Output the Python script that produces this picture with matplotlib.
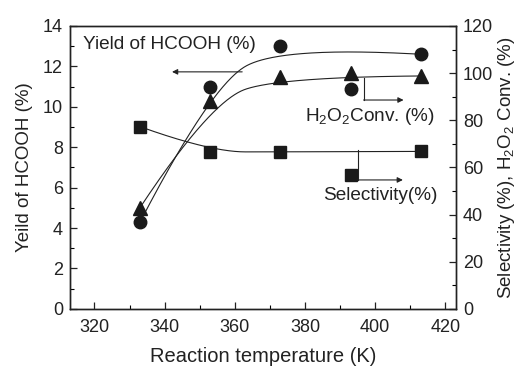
import numpy as np
import matplotlib
matplotlib.use("Agg")
import matplotlib.pyplot as plt

plt.rcParams['font.family'] = ['Liberation Sans', 'DejaVu Sans']
plt.rcParams['mathtext.fontset'] = 'custom'
plt.rcParams['mathtext.rm'] = 'Liberation Sans'
plt.rcParams['mathtext.it'] = 'Liberation Sans'
plt.rcParams['mathtext.sf'] = 'Liberation Sans'
plt.rcParams['mathtext.default'] = 'rm'

# data
temp = np.array([333, 353, 373, 393, 413])
yield_hcooh = np.array([4.3, 11.0, 13.0, 10.9, 12.6])      # left axis, %
conversion = np.array([43.0, 88.0, 98.3, 100.0, 98.8])     # right axis, %
selectivity = np.array([77.3, 66.6, 66.6, 56.8, 66.8])     # right axis, %
# the 393 K points are not part of the drawn curves
in_curve = np.array([True, True, True, False, True])

xticks = [320, 340, 360, 380, 400, 420]


def bspline2(x, y, n=100):
    # clamped quadratic B-spline with the points as control points
    px, py = np.asarray(x, float), np.asarray(y, float)
    mx = np.r_[px[0], (px[1:-2] + px[2:-1]) / 2, px[-1]]
    my = np.r_[py[0], (py[1:-2] + py[2:-1]) / 2, py[-1]]
    u = np.linspace(0, 1, n)[:, None]
    cx = px[1:-1]
    cy = py[1:-1]
    bx = (1 - u) ** 2 * mx[:-1] + 2 * u * (1 - u) * cx + u ** 2 * mx[1:]
    by = (1 - u) ** 2 * my[:-1] + 2 * u * (1 - u) * cy + u ** 2 * my[1:]
    return bx.T.ravel(), by.T.ravel()


fig = plt.figure(figsize=(5.18, 3.66), dpi=100)
ax = fig.add_axes([0.135, 0.156, 0.745, 0.773])
ax2 = ax.twinx()

lc = '#222222'
mc = '#1a1a1a'
ax.plot(*bspline2(temp[in_curve], yield_hcooh[in_curve]), color=lc, lw=0.8)
ax.plot(temp, yield_hcooh, 'o', color=mc, ms=9)
ax2.plot(*bspline2(temp[in_curve], conversion[in_curve]), color=lc, lw=0.8)
ax2.plot(temp, conversion, '^', color=mc, ms=10)
ax2.plot(*bspline2(temp[in_curve], selectivity[in_curve]), color=lc, lw=0.8)
ax2.plot(temp, selectivity, 's', color=mc, ms=8)

ax.set_xlim(313, 423)
ax.set_ylim(0, 14)
ax2.set_ylim(0, 120)
ax.set_xticks(xticks)
ax.set_xticks(np.arange(330, 421, 20), minor=True)
ax.set_yticks(np.arange(0, 15, 2))
ax.set_yticks(np.arange(1, 14, 2), minor=True)
ax2.set_yticks(np.arange(0, 121, 20))
ax2.set_yticks(np.arange(10, 120, 20), minor=True)

for a in (ax, ax2):
    a.tick_params(direction='in', labelsize=13, length=5, width=0.9, colors=lc, pad=5)
    a.tick_params(which='minor', direction='in', length=3, width=0.8)
    for s in a.spines.values():
        s.set_linewidth(1.0)
        s.set_color(lc)
ax.tick_params(axis='x', pad=7)

ax.set_xlabel('Reaction temperature (K)', fontsize=14.5, color=lc, labelpad=8)
ax.set_ylabel('Yeild of HCOOH (%)', fontsize=13.5, color=lc, labelpad=7)
ax2.set_ylabel('Selectivity (%), H$_2$O$_2$ Conv. (%)', fontsize=13.5, color=lc, labelpad=2)

# annotations
ax.text(316.7, 13.1, 'Yield of HCOOH (%)', fontsize=13.7, va='center', color=lc)
ax.annotate('', xy=(342.1, 11.73), xytext=(362.1, 11.73),
            arrowprops=dict(arrowstyle='-|>', color=lc, lw=0.8, mutation_scale=8,
                            shrinkA=0, shrinkB=0))

ax2.plot([396.7, 396.7], [98.0, 88.6], color=lc, lw=0.8)
ax2.annotate('', xy=(408.1, 88.6), xytext=(396.7, 88.6),
             arrowprops=dict(arrowstyle='-|>', color=lc, lw=0.8, mutation_scale=8,
                             shrinkA=0, shrinkB=0))
ax2.text(398.6, 81.4, 'H$_2$O$_2$Conv. (%)', fontsize=13.7, va='center', ha='center', color=lc)

ax2.plot([395.0, 395.0], [67.4, 54.7], color=lc, lw=0.8)
ax2.annotate('', xy=(407.9, 54.7), xytext=(395.0, 54.7),
             arrowprops=dict(arrowstyle='-|>', color=lc, lw=0.8, mutation_scale=8,
                             shrinkA=0, shrinkB=0))
ax2.text(401.4, 48.3, 'Selectivity(%)', fontsize=13.7, va='center', ha='center', color=lc)

fig.savefig('out.png', dpi=100)
